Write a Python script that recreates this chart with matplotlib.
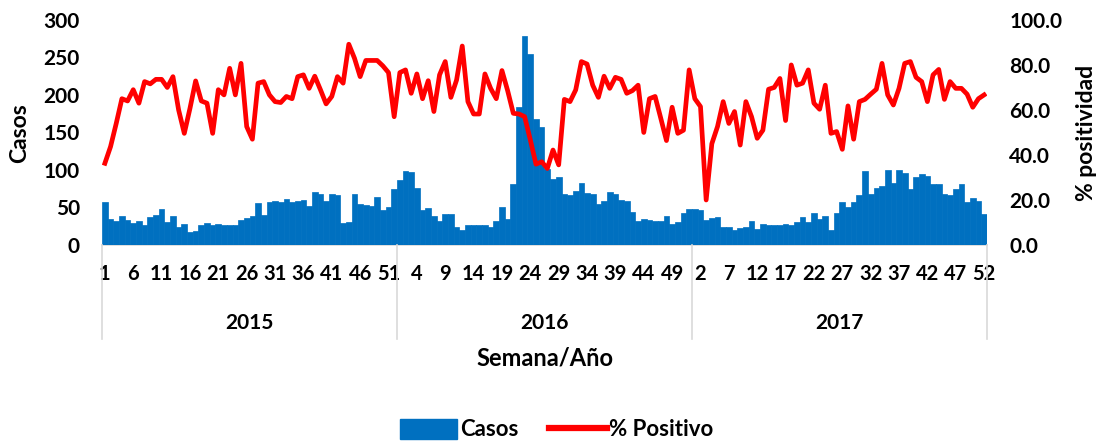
import numpy as np
import matplotlib
matplotlib.use("Agg")
import matplotlib.pyplot as plt
import matplotlib.transforms as mtransforms
from matplotlib.patches import Patch
from matplotlib.lines import Line2D

plt.rcParams["font.family"] = ["Lato", "DejaVu Sans"]
plt.rcParams["font.weight"] = "bold"

years = [2015, 2016, 2017]
weeks_per_year = [52, 52, 52]

casos = [
    # 2015
    57, 35, 32, 39, 33, 29, 32, 26, 37, 40, 48, 30, 38, 24, 28, 17, 19, 27, 29, 26,
    28, 27, 27, 27, 33, 36, 38, 56, 40, 57, 59, 57, 61, 57, 58, 60, 52, 70, 68, 59,
    68, 66, 29, 31, 68, 55, 53, 52, 64, 47, 50, 75,
    # 2016
    86, 99, 97, 76, 47, 49, 39, 32, 41, 41, 24, 20, 26, 26, 26, 26, 24, 32, 50, 35,
    81, 184, 279, 255, 168, 157, 101, 88, 90, 68, 67, 72, 82, 69, 68, 54, 59, 70, 68, 60,
    59, 44, 32, 35, 33, 32, 32, 39, 28, 30, 42, 48,
    # 2017
    48, 46, 33, 36, 37, 24, 24, 20, 22, 24, 32, 21, 28, 27, 27, 26, 28, 27, 30, 37,
    30, 42, 35, 39, 20, 42, 57, 50, 57, 66, 98, 68, 76, 79, 100, 82, 100, 96, 75, 90,
    95, 92, 81, 81, 68, 67, 75, 81, 57, 63, 59, 41,
]

positivo = [
    # 2015
    36.3, 43.7, 54.0, 65.0, 64.0, 69.0, 63.0, 72.6, 71.6, 73.6, 73.6, 70.0, 74.8, 60.0,
    49.6, 60.7, 72.9, 64.0, 63.0, 49.6, 69.0, 66.7, 78.5, 66.7, 80.7, 52.6, 47.0, 71.9,
    72.6, 66.7, 63.7, 63.3, 66.0, 65.0, 74.8, 75.6, 69.6, 75.0, 69.0, 62.7, 66.0, 74.8,
    71.9, 89.2, 83.0, 74.8, 82.0, 82.0, 82.0, 79.6, 76.6, 57.0,
    # 2016
    76.6, 77.8, 67.4, 76.0, 65.0, 73.0, 59.3, 75.6, 81.5, 65.6, 73.3, 88.4, 63.7, 58.2,
    58.2, 76.0, 69.6, 65.0, 77.5, 68.6, 58.5, 58.2, 57.0, 46.7, 35.9, 37.0, 34.0, 42.2,
    35.6, 64.7, 63.7, 68.9, 81.5, 80.4, 71.0, 65.6, 75.0, 69.6, 74.5, 73.6, 67.4, 68.6,
    71.0, 50.0, 65.0, 66.0, 56.3, 46.4, 61.2, 49.6, 51.0, 77.8,
    # 2017
    65.0, 61.5, 20.0, 45.0, 52.6, 63.7, 54.0, 59.3, 44.4, 63.7, 57.0, 47.4, 51.0, 69.2,
    70.0, 74.0, 55.3, 80.0, 71.0, 71.9, 77.8, 63.0, 60.3, 71.0, 49.6, 50.4, 42.5, 61.8,
    47.0, 63.7, 64.7, 67.0, 69.2, 80.7, 66.7, 62.2, 69.6, 80.7, 81.5, 74.5, 72.6, 63.7,
    75.6, 78.0, 64.7, 72.6, 69.6, 69.6, 67.0, 61.2, 65.0, 66.7,
]

week_labels = []
for n in weeks_per_year:
    week_labels += list(range(1, n + 1))

BLUE = "#0070C0"
RED = "#FF0000"
GRID = "#D9D9D9"

fig = plt.figure(figsize=(11.02, 4.43), dpi=100)
ax = fig.add_axes([0.0926, 0.447, 0.803, 0.508])
ax2 = ax.twinx()

x = np.arange(len(casos))
ax.bar(x, casos, width=1.0, color=BLUE, edgecolor=BLUE, linewidth=0.5, zorder=2)
ax2.plot(x, positivo, color=RED, linewidth=3.4, solid_joinstyle="round", zorder=3)

ax.set_xlim(-0.5, len(casos) - 0.5)
ax.set_ylim(0, 300)
ax.set_yticks(range(0, 301, 50))
ax2.set_ylim(0, 100)
ax2.set_yticks(range(0, 101, 20))
ax2.set_yticklabels([f"{v:.1f}" for v in range(0, 101, 20)])

tick_pos = x[::5]
ax.set_xticks(tick_pos)
ax.set_xticklabels([str(week_labels[i]) for i in tick_pos])

for a in (ax, ax2):
    for s in ("top", "left", "right", "bottom"):
        a.spines[s].set_visible(False)
ax.tick_params(axis="x", length=0, pad=14, labelsize=14.5)
ax.tick_params(axis="y", length=0, pad=16, labelsize=15)
ax2.tick_params(axis="y", length=0, pad=16, labelsize=15)

# axis line and year separators
trans = mtransforms.blended_transform_factory(ax.transData, ax.transAxes)
ax.plot([-0.5, len(casos) - 0.5], [0, 0], transform=trans, color=GRID,
        linewidth=1.2, clip_on=False, zorder=1)
edges = np.concatenate([[0], np.cumsum(weeks_per_year)]) - 0.5
for e in edges:
    ax.plot([e, e], [0, -0.42], transform=trans, color=GRID, linewidth=1.2,
            clip_on=False)
for i, yr in enumerate(years):
    ax.text((edges[i] + edges[i + 1]) / 2, -0.345, str(yr), transform=trans,
            ha="center", va="center", fontsize=15, fontweight="bold")

ax.text(0.5, -0.5, "Semana/Año", transform=ax.transAxes, ha="center",
        va="center", fontsize=17, fontweight="bold")
fig.text(0.018, 0.7, "Casos", rotation=90, ha="center", va="center",
         fontsize=16.5, fontweight="bold")
fig.text(0.986, 0.7, "% positividad", rotation=90, ha="center", va="center",
         fontsize=16.5, fontweight="bold")

handles = [Patch(facecolor=BLUE, edgecolor=BLUE, label="Casos"),
           Line2D([0], [0], color=RED, linewidth=4.5, label="% Positivo")]
fig.legend(handles=handles, loc="center", bbox_to_anchor=(0.505, 0.03),
           ncol=2, frameon=False, fontsize=16, handlelength=2.6,
           handleheight=1.0, handletextpad=0.1, columnspacing=1.4)

fig.savefig("out.png", dpi=100)
